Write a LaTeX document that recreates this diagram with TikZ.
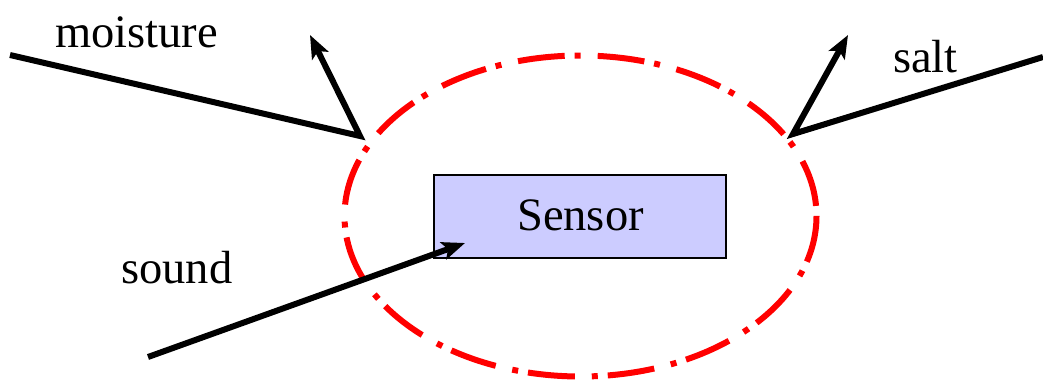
\documentclass[tikz,border=0pt]{standalone}
\usepackage{fontspec}
\setmainfont{Liberation Serif}
\usetikzlibrary{arrows.meta}
\definecolor{boxfill}{RGB}{204,204,255}
\begin{document}
\begin{tikzpicture}[x=1pt,y=-1pt,
  lbl/.style={inner sep=0pt,anchor=base west,font=\fontsize{46.5}{54}\selectfont},
  ray/.style={line width=6pt,line join=miter,-{Stealth[length=23pt,width=18pt,inset=5pt]}},
  border/.style={draw=red,line width=6pt,dash pattern=on 47pt off 10pt on 6pt off 17pt}]
\useasboundingbox (0,0) rectangle (1043,380);
% boundary ellipse
\draw[border] (580.5,216) ellipse [x radius=236, y radius=160.5];
% sensor box
\node[draw=black,line width=1.6pt,fill=boxfill,minimum width=292pt,minimum height=83pt,inner sep=0pt] (sensor) at (580,216.5) {};
\node[lbl] (sensortext) at (517,230) {Sensor};
% labels
\node[lbl] (moisture) at (55,47.5) {moisture};
\node[lbl] (salt) at (893,72.5) {salt};
\node[lbl] (sound) at (121,283) {sound};
% moisture ray
\coordinate (m0) at (10,55);
\coordinate (mc) at (360,136);
\coordinate (mt) at (310,35);
\draw[ray] (m0) -- (mc) -- (mt);
% salt ray
\coordinate (s0) at (1043,57);
\coordinate (sc) at (793,134);
\coordinate (st) at (848,35);
\draw[ray] (s0) -- (sc) -- (st);
% sound ray
\coordinate (d0) at (148,357);
\coordinate (dt) at (465,243);
\draw[ray] (d0) -- (dt);
\end{tikzpicture}
\end{document}
